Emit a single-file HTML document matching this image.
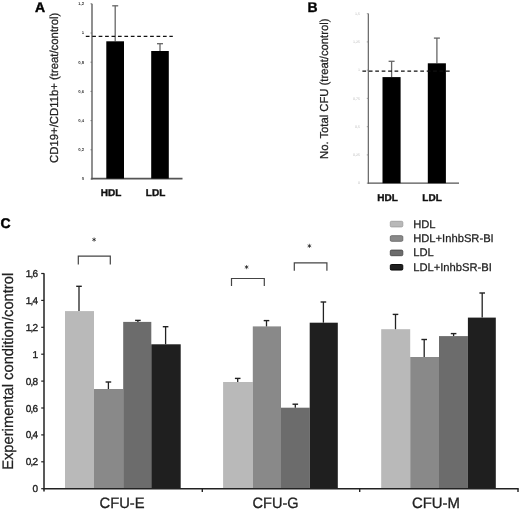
<!DOCTYPE html>
<html><head><meta charset="utf-8"><style>
html,body{margin:0;padding:0;background:#fff;}
svg{display:block;font-family:"Liberation Sans", sans-serif;filter:grayscale(1) blur(0.3px);text-rendering:geometricPrecision;}
</style></head><body>
<svg width="520" height="511" viewBox="0 0 520 511">
<rect width="520" height="511" fill="#fff"/>
<text x="35" y="11.6" font-size="14" font-weight="bold" fill="#000" stroke="#000" stroke-width="0.45">A</text>
<text transform="translate(57.8,162.9) rotate(-90)" font-size="11.6" textLength="150.3" lengthAdjust="spacingAndGlyphs" fill="#222" stroke="#222" stroke-width="0.25">CD19+/CD11b+ (treat/control)</text>
<line x1="92.0" y1="3.8" x2="92.0" y2="179.4" stroke="#5a5a5a" stroke-width="1.35"/>
<line x1="91.2" y1="178.6" x2="182.5" y2="178.6" stroke="#555" stroke-width="1.6"/>
<text x="84" y="180.4" font-size="4.2" font-weight="bold" text-anchor="end" fill="#333">0</text>
<line x1="90.5" y1="179.0" x2="92.0" y2="179.0" stroke="#666" stroke-width="0.8"/>
<text x="84" y="151.2" font-size="4.2" font-weight="bold" text-anchor="end" fill="#333">0,2</text>
<line x1="90.5" y1="149.8" x2="92.0" y2="149.8" stroke="#666" stroke-width="0.8"/>
<text x="84" y="122.0" font-size="4.2" font-weight="bold" text-anchor="end" fill="#333">0,4</text>
<line x1="90.5" y1="120.6" x2="92.0" y2="120.6" stroke="#666" stroke-width="0.8"/>
<text x="84" y="92.8" font-size="4.2" font-weight="bold" text-anchor="end" fill="#333">0,6</text>
<line x1="90.5" y1="91.4" x2="92.0" y2="91.4" stroke="#666" stroke-width="0.8"/>
<text x="84" y="63.6" font-size="4.2" font-weight="bold" text-anchor="end" fill="#333">0,8</text>
<line x1="90.5" y1="62.2" x2="92.0" y2="62.2" stroke="#666" stroke-width="0.8"/>
<text x="84" y="34.4" font-size="4.2" font-weight="bold" text-anchor="end" fill="#333">1</text>
<line x1="90.5" y1="33.0" x2="92.0" y2="33.0" stroke="#666" stroke-width="0.8"/>
<text x="84" y="5.2" font-size="4.2" font-weight="bold" text-anchor="end" fill="#333">1,2</text>
<line x1="90.5" y1="3.8" x2="92.0" y2="3.8" stroke="#666" stroke-width="0.8"/>
<line x1="115.2" y1="5.8" x2="115.2" y2="41.3" stroke="#666" stroke-width="1.3"/>
<line x1="112.2" y1="5.8" x2="118.2" y2="5.8" stroke="#666" stroke-width="1.3"/>
<rect x="106.3" y="41.3" width="17.7" height="137.3" fill="#000"/>
<line x1="160.0" y1="43.7" x2="160.0" y2="51.0" stroke="#666" stroke-width="1.3"/>
<line x1="157.0" y1="43.7" x2="163.0" y2="43.7" stroke="#666" stroke-width="1.3"/>
<rect x="151.2" y="51.0" width="17.6" height="127.6" fill="#000"/>
<line x1="85.8" y1="36.3" x2="172.8" y2="36.3" stroke="#111" stroke-width="1.3" stroke-dasharray="3.7 2.73"/>
<text x="100.8" y="195.8" font-size="10" font-weight="bold" fill="#111" stroke="#111" stroke-width="0.4">HDL</text>
<text x="145.8" y="195.8" font-size="10" font-weight="bold" fill="#111" stroke="#111" stroke-width="0.4">LDL</text>
<text x="307.6" y="12.3" font-size="14" font-weight="bold" fill="#000" stroke="#000" stroke-width="0.3">B</text>
<text transform="translate(328.3,158.9) rotate(-90)" font-size="11.5" textLength="140.3" lengthAdjust="spacingAndGlyphs" fill="#222" stroke="#222" stroke-width="0.25">No. Total CFU (treat/control)</text>
<line x1="368.3" y1="13.4" x2="368.3" y2="183.7" stroke="#555" stroke-width="1.1"/>
<line x1="367.8" y1="183.2" x2="459" y2="183.2" stroke="#555" stroke-width="1.2"/>
<text x="360" y="184.4" font-size="3.6" text-anchor="end" fill="#bbb">0</text>
<line x1="366.8" y1="183.2" x2="368.3" y2="183.2" stroke="#888" stroke-width="0.8"/>
<text x="360" y="156.1" font-size="3.6" text-anchor="end" fill="#bbb">0,25</text>
<line x1="366.8" y1="154.9" x2="368.3" y2="154.9" stroke="#888" stroke-width="0.8"/>
<text x="360" y="127.9" font-size="3.6" text-anchor="end" fill="#bbb">0,5</text>
<line x1="366.8" y1="126.7" x2="368.3" y2="126.7" stroke="#888" stroke-width="0.8"/>
<text x="360" y="99.6" font-size="3.6" text-anchor="end" fill="#bbb">0,75</text>
<line x1="366.8" y1="98.4" x2="368.3" y2="98.4" stroke="#888" stroke-width="0.8"/>
<text x="360" y="71.4" font-size="3.6" text-anchor="end" fill="#bbb">1</text>
<line x1="366.8" y1="70.2" x2="368.3" y2="70.2" stroke="#888" stroke-width="0.8"/>
<text x="360" y="43.1" font-size="3.6" text-anchor="end" fill="#bbb">1,25</text>
<line x1="366.8" y1="41.9" x2="368.3" y2="41.9" stroke="#888" stroke-width="0.8"/>
<text x="360" y="14.9" font-size="3.6" text-anchor="end" fill="#bbb">1,5</text>
<line x1="366.8" y1="13.7" x2="368.3" y2="13.7" stroke="#888" stroke-width="0.8"/>
<line x1="391.6" y1="61.3" x2="391.6" y2="77.1" stroke="#666" stroke-width="1.3"/>
<line x1="388.6" y1="61.3" x2="394.6" y2="61.3" stroke="#666" stroke-width="1.3"/>
<rect x="382.5" y="77.1" width="18.1" height="106.1" fill="#000"/>
<line x1="436.9" y1="38.1" x2="436.9" y2="63.3" stroke="#666" stroke-width="1.3"/>
<line x1="433.9" y1="38.1" x2="439.9" y2="38.1" stroke="#666" stroke-width="1.3"/>
<rect x="427.8" y="63.3" width="18.1" height="119.9" fill="#000"/>
<line x1="362.4" y1="71.2" x2="450" y2="71.2" stroke="#111" stroke-width="1.3" stroke-dasharray="3.7 2.73"/>
<text x="377.3" y="200.8" font-size="10" font-weight="bold" fill="#111" stroke="#111" stroke-width="0.4">HDL</text>
<text x="422.3" y="200.8" font-size="10" font-weight="bold" fill="#111" stroke="#111" stroke-width="0.4">LDL</text>
<text x="0.6" y="228.3" font-size="14" font-weight="bold" fill="#000" stroke="#000" stroke-width="0.45">C</text>
<text transform="translate(12.5,469.8) rotate(-90)" font-size="15.2" textLength="197" lengthAdjust="spacingAndGlyphs" fill="#222" stroke="#222" stroke-width="0.25">Experimental condition/control</text>
<rect x="65.00" y="311.10" width="29.00" height="177.60" fill="#b9b9b9"/>
<line x1="79.00" y1="286.30" x2="79.00" y2="311.10" stroke="#222" stroke-width="1.3"/>
<line x1="76.20" y1="286.30" x2="81.80" y2="286.30" stroke="#222" stroke-width="1.4"/>
<rect x="94.00" y="389.00" width="29.20" height="99.70" fill="#898989"/>
<line x1="108.40" y1="382.00" x2="108.40" y2="389.00" stroke="#222" stroke-width="1.3"/>
<line x1="105.60" y1="382.00" x2="111.20" y2="382.00" stroke="#222" stroke-width="1.4"/>
<rect x="123.20" y="321.90" width="28.10" height="166.80" fill="#6c6c6c"/>
<line x1="137.90" y1="320.40" x2="137.90" y2="321.90" stroke="#222" stroke-width="1.3"/>
<line x1="135.10" y1="320.40" x2="140.70" y2="320.40" stroke="#222" stroke-width="1.4"/>
<rect x="151.30" y="344.30" width="29.40" height="144.40" fill="#1f1f1f"/>
<line x1="165.60" y1="326.70" x2="165.60" y2="344.30" stroke="#222" stroke-width="1.3"/>
<line x1="162.80" y1="326.70" x2="168.40" y2="326.70" stroke="#222" stroke-width="1.4"/>
<rect x="223.10" y="382.00" width="29.70" height="106.70" fill="#b9b9b9"/>
<line x1="237.70" y1="378.40" x2="237.70" y2="382.00" stroke="#222" stroke-width="1.3"/>
<line x1="234.90" y1="378.40" x2="240.50" y2="378.40" stroke="#222" stroke-width="1.4"/>
<rect x="252.80" y="326.40" width="28.20" height="162.30" fill="#898989"/>
<line x1="266.50" y1="320.60" x2="266.50" y2="326.40" stroke="#222" stroke-width="1.3"/>
<line x1="263.70" y1="320.60" x2="269.30" y2="320.60" stroke="#222" stroke-width="1.4"/>
<rect x="281.00" y="407.70" width="28.70" height="81.00" fill="#6c6c6c"/>
<line x1="295.30" y1="404.20" x2="295.30" y2="407.70" stroke="#222" stroke-width="1.3"/>
<line x1="292.50" y1="404.20" x2="298.10" y2="404.20" stroke="#222" stroke-width="1.4"/>
<rect x="309.70" y="322.70" width="28.10" height="166.00" fill="#1f1f1f"/>
<line x1="323.40" y1="302.00" x2="323.40" y2="322.70" stroke="#222" stroke-width="1.3"/>
<line x1="320.60" y1="302.00" x2="326.20" y2="302.00" stroke="#222" stroke-width="1.4"/>
<rect x="381.20" y="329.20" width="29.00" height="159.50" fill="#b9b9b9"/>
<line x1="395.50" y1="314.40" x2="395.50" y2="329.20" stroke="#222" stroke-width="1.3"/>
<line x1="392.70" y1="314.40" x2="398.30" y2="314.40" stroke="#222" stroke-width="1.4"/>
<rect x="410.20" y="357.00" width="28.80" height="131.70" fill="#898989"/>
<line x1="424.20" y1="339.50" x2="424.20" y2="357.00" stroke="#222" stroke-width="1.3"/>
<line x1="421.40" y1="339.50" x2="427.00" y2="339.50" stroke="#222" stroke-width="1.4"/>
<rect x="439.00" y="336.10" width="28.90" height="152.60" fill="#6c6c6c"/>
<line x1="453.60" y1="333.60" x2="453.60" y2="336.10" stroke="#222" stroke-width="1.3"/>
<line x1="450.80" y1="333.60" x2="456.40" y2="333.60" stroke="#222" stroke-width="1.4"/>
<rect x="467.90" y="317.60" width="27.90" height="171.10" fill="#1f1f1f"/>
<line x1="482.20" y1="293.00" x2="482.20" y2="317.60" stroke="#222" stroke-width="1.3"/>
<line x1="479.40" y1="293.00" x2="485.00" y2="293.00" stroke="#222" stroke-width="1.4"/>
<line x1="44.0" y1="273.3" x2="44.0" y2="491.5" stroke="#222" stroke-width="1.5"/>
<line x1="43.3" y1="488.7" x2="518.7" y2="488.7" stroke="#222" stroke-width="1.6"/>
<line x1="202.3" y1="488.7" x2="202.3" y2="491.9" stroke="#222" stroke-width="1.4"/>
<line x1="359.7" y1="488.7" x2="359.7" y2="491.9" stroke="#222" stroke-width="1.4"/>
<line x1="518.0" y1="488.7" x2="518.0" y2="491.9" stroke="#222" stroke-width="1.4"/>
<line x1="41.2" y1="488.70" x2="44.0" y2="488.70" stroke="#222" stroke-width="1.2"/>
<text x="37.2" y="492.20" font-size="10" text-anchor="end" letter-spacing="-0.8" fill="#222" stroke="#222" stroke-width="0.35">0</text>
<line x1="41.2" y1="461.80" x2="44.0" y2="461.80" stroke="#222" stroke-width="1.2"/>
<text x="37.2" y="465.30" font-size="10" text-anchor="end" letter-spacing="-0.8" fill="#222" stroke="#222" stroke-width="0.35">0,2</text>
<line x1="41.2" y1="434.90" x2="44.0" y2="434.90" stroke="#222" stroke-width="1.2"/>
<text x="37.2" y="438.40" font-size="10" text-anchor="end" letter-spacing="-0.8" fill="#222" stroke="#222" stroke-width="0.35">0,4</text>
<line x1="41.2" y1="408.00" x2="44.0" y2="408.00" stroke="#222" stroke-width="1.2"/>
<text x="37.2" y="411.50" font-size="10" text-anchor="end" letter-spacing="-0.8" fill="#222" stroke="#222" stroke-width="0.35">0,6</text>
<line x1="41.2" y1="381.10" x2="44.0" y2="381.10" stroke="#222" stroke-width="1.2"/>
<text x="37.2" y="384.60" font-size="10" text-anchor="end" letter-spacing="-0.8" fill="#222" stroke="#222" stroke-width="0.35">0,8</text>
<line x1="41.2" y1="354.20" x2="44.0" y2="354.20" stroke="#222" stroke-width="1.2"/>
<text x="37.2" y="357.70" font-size="10" text-anchor="end" letter-spacing="-0.8" fill="#222" stroke="#222" stroke-width="0.35">1</text>
<line x1="41.2" y1="327.30" x2="44.0" y2="327.30" stroke="#222" stroke-width="1.2"/>
<text x="37.2" y="330.80" font-size="10" text-anchor="end" letter-spacing="-0.8" fill="#222" stroke="#222" stroke-width="0.35">1,2</text>
<line x1="41.2" y1="300.40" x2="44.0" y2="300.40" stroke="#222" stroke-width="1.2"/>
<text x="37.2" y="303.90" font-size="10" text-anchor="end" letter-spacing="-0.8" fill="#222" stroke="#222" stroke-width="0.35">1,4</text>
<line x1="41.2" y1="273.50" x2="44.0" y2="273.50" stroke="#222" stroke-width="1.2"/>
<text x="37.2" y="277.00" font-size="10" text-anchor="end" letter-spacing="-0.8" fill="#222" stroke="#222" stroke-width="0.35">1,6</text>
<text x="99.6" y="508.2" font-size="15" fill="#222" stroke="#222" stroke-width="0.3" textLength="45.0" lengthAdjust="spacingAndGlyphs">CFU-E</text>
<text x="252.6" y="508.2" font-size="15" fill="#222" stroke="#222" stroke-width="0.3" textLength="46.0" lengthAdjust="spacingAndGlyphs">CFU-G</text>
<text x="411.9" y="508.2" font-size="15" fill="#222" stroke="#222" stroke-width="0.3" textLength="48.0" lengthAdjust="spacingAndGlyphs">CFU-M</text>
<polyline points="78.3,264.6 78.3,256.1 110.3,256.1 110.3,264.6" fill="none" stroke="#444" stroke-width="1.2"/>
<path d="M94.10,237.50L94.10,241.70M92.28,238.55L95.92,240.65M92.28,240.65L95.92,238.55" stroke="#555" stroke-width="0.9" fill="none"/>
<circle cx="94.1" cy="239.6" r="0.75" fill="#222"/>
<polyline points="231.5,286.1 231.5,278.5 264.3,278.5 264.3,286.1" fill="none" stroke="#444" stroke-width="1.2"/>
<path d="M246.60,265.00L246.60,269.20M244.78,266.05L248.42,268.15M244.78,268.15L248.42,266.05" stroke="#555" stroke-width="0.9" fill="none"/>
<circle cx="246.6" cy="267.1" r="0.75" fill="#222"/>
<polyline points="294.3,270.8 294.3,262.8 326.9,262.8 326.9,270.8" fill="none" stroke="#444" stroke-width="1.2"/>
<path d="M309.40,243.80L309.40,248.00M307.58,244.85L311.22,246.95M307.58,246.95L311.22,244.85" stroke="#555" stroke-width="0.9" fill="none"/>
<circle cx="309.4" cy="245.9" r="0.75" fill="#222"/>
<rect x="390.3" y="221.30" width="12.5" height="5.6" rx="1.2" fill="#b9b9b9" stroke="#a0a0a0" stroke-width="0.9"/>
<text x="413.2" y="227.60" font-size="11.2" fill="#222" stroke="#222" stroke-width="0.25">HDL</text>
<rect x="390.3" y="235.70" width="12.5" height="5.6" rx="1.2" fill="#898989" stroke="#6a6a6a" stroke-width="0.9"/>
<text x="413.2" y="242.00" font-size="11.2" fill="#222" stroke="#222" stroke-width="0.25">HDL+InhbSR-BI</text>
<rect x="390.3" y="250.10" width="12.5" height="5.6" rx="1.2" fill="#6c6c6c" stroke="#4a4a4a" stroke-width="0.9"/>
<text x="413.2" y="256.40" font-size="11.2" fill="#222" stroke="#222" stroke-width="0.25">LDL</text>
<rect x="390.3" y="264.50" width="12.5" height="5.6" rx="1.2" fill="#1f1f1f" stroke="#000" stroke-width="0.9"/>
<text x="413.2" y="270.80" font-size="11.2" fill="#222" stroke="#222" stroke-width="0.25">LDL+InhbSR-BI</text>
</svg>
</body></html>
